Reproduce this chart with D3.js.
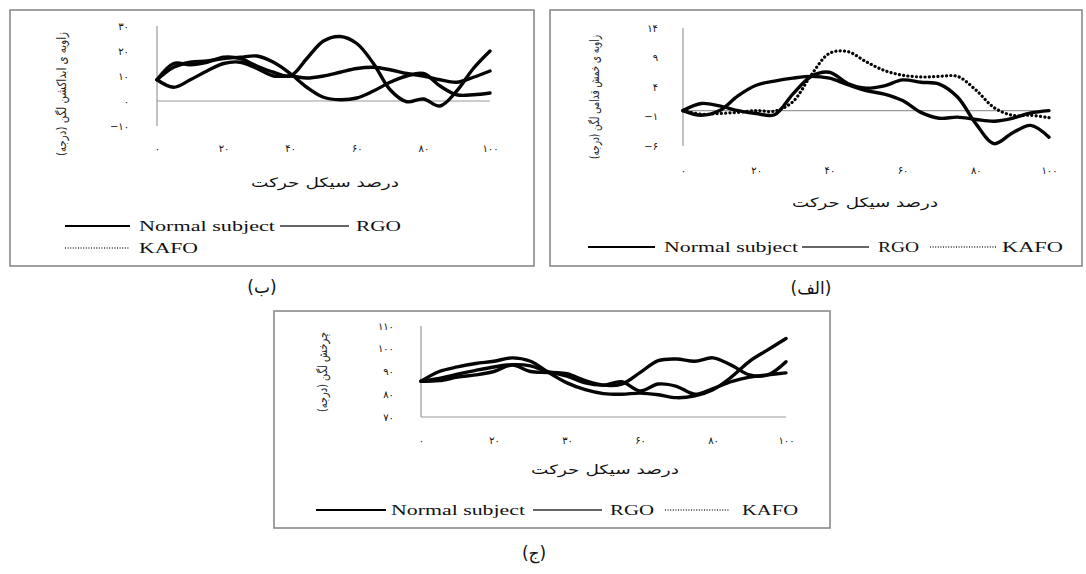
<!DOCTYPE html>
<html>
<head>
<meta charset="utf-8">
<script src="https://cdn.jsdelivr.net/npm/d3@7"></script>
<style>
  body { margin: 0; background: #fff; }
  svg { display: block; }
</style>
</head>
<body>
<script>
// percent of the gait cycle, shared by every series
const cyclePct = [0, 5, 10, 15, 20, 25, 30, 35, 40, 45, 50, 55, 60, 65, 70, 75, 80, 85, 90, 95, 100]
const xTicks = [0, 20, 40, 60, 80, 100]
const xTickText = ["۰", "۲۰", "۴۰", "۶۰", "۸۰", "۱۰۰"]
const xTickTextC = ["۰", "۲۰", "۳۰", "۶۰", "۸۰", "۱۰۰"]

const legendNames = ["Normal subject", "RGO", "KAFO"]

// (ب) pelvic abduction
const abdNormal = [8.5, 15, 14.5, 15.5, 17.5, 17, 14, 11.5, 10, 17, 24, 25.8, 23, 15, 4.5, -0.3, 0.8, -2, 4, 13, 20]
const abdRGO    = [8.5, 13.5, 15.5, 16, 17, 17.5, 18, 15.5, 11, 5.5, 1.5, 0.5, 1.2, 4, 7.5, 10, 11, 6, 2.5, 2.5, 3.2]
const abdKAFO   = [8.5, 5.5, 8.5, 12, 15, 15.5, 13, 10, 10, 9.2, 10, 11.5, 13, 13.5, 12.5, 11, 10, 8.5, 7.5, 9.5, 12]
const abdTicks = [-10, 0, 10, 20, 30]
const abdTickText = ["−۱۰", "۰", "۱۰", "۲۰", "۳۰"]

// (الف) anterior pelvic tilt
const tiltNormal = [0, -0.8, 0, 2.5, 4.3, 5, 5.5, 5.8, 5.5, 4.4, 3.4, 2.8, 1.7, -0.3, -1.3, -1.1, -1.5, -1.8, -1.3, -0.4, 0]
const tiltRGO    = [0, 1.2, 0.8, 0, -0.5, -0.7, 2.8, 5.8, 6.5, 4.6, 3.8, 4.2, 5.2, 4.8, 4.5, 2.3, -2.2, -5.6, -3.8, -2.5, -4.5]
const tiltKAFO   = [0, -0.6, -0.5, -0.3, 0, -0.1, 1.5, 6, 9.7, 10, 8.3, 6.8, 6, 5.7, 5.8, 5.8, 3.5, 0.5, -0.8, -0.8, -1.2]
const tiltTicks = [-6, -1, 4, 9, 14]
const tiltTickText = ["−۶", "−۱", "۴", "۹", "۱۴"]

// (ج) pelvic rotation
const rotNormal = [85.7, 90, 92, 93.5, 94.5, 96, 94.5, 89.5, 85, 82, 80.3, 80, 80.5, 79.8, 78.5, 79.3, 82, 87.5, 94.5, 99.5, 104.5]
const rotRGO    = [85.7, 87, 88.8, 90.5, 92, 93, 92.5, 89.8, 89, 86, 84, 84.5, 89.5, 94.8, 95.5, 94.5, 96, 92.8, 88.5, 88.5, 94.3]
const rotKAFO   = [85.7, 86, 87.5, 88.5, 90, 92.8, 90, 89.5, 88, 85, 84, 85.5, 81.5, 84.5, 83.5, 80, 82.5, 85.5, 87.5, 88.5, 89.4]
const rotTicks = [70, 80, 90, 100, 110]
const rotTickText = ["۷۰", "۸۰", "۹۰", "۱۰۰", "۱۱۰"]

const xTitle = "درصد سیکل حرکت"

let svg = d3.select('body')
  .append('svg')
  .attr('width', 1086)
  .attr('height', 574)

function drawPanel(p) {
  let g = svg.append('g')

  g.append('rect')
    .attr('x', p.box[0]).attr('y', p.box[1])
    .attr('width', p.box[2] - p.box[0]).attr('height', p.box[3] - p.box[1])
    .attr('fill', 'none').attr('stroke', '#8a8a8a').attr('stroke-width', 1.6)

  let x = d3.scaleLinear().domain([0, 100]).range([p.plot[0], p.plot[2]])
  let y = d3.scaleLinear().domain(p.yDomain).range([p.plot[3], p.plot[1]])

  // axis lines
  g.append('line')
    .attr('x1', x(0)).attr('x2', x(0))
    .attr('y1', y(p.yDomain[1])).attr('y2', y(p.yDomain[0]))
    .attr('stroke', '#9a9a9a').attr('stroke-width', 1.2)
  g.append('line')
    .attr('x1', x(0)).attr('x2', x(100))
    .attr('y1', y(p.yCross)).attr('y2', y(p.yCross))
    .attr('stroke', '#9a9a9a').attr('stroke-width', 1.2)

  // tick labels
  let yAxis = g.append('g')
    .attr('transform', `translate(${p.yLabelX},0)`)
    .call(d3.axisLeft(y).tickValues(p.yTicks).tickSize(0).tickPadding(0)
      .tickFormat((d, i) => p.yTickText[i]))
  let xAxis = g.append('g')
    .attr('transform', `translate(0,${p.xLabelY})`)
    .call(d3.axisBottom(x).tickValues(xTicks).tickSize(0).tickPadding(0)
      .tickFormat((d, i) => p.xTickText[i]))
  ;[yAxis, xAxis].forEach(a => {
    a.select('.domain').remove()
    a.selectAll('text')
      .attr('font-family', 'DejaVu Sans, sans-serif')
      .attr('font-size', 10)
      .attr('letter-spacing', 2.5)
      .attr('fill', '#111')
  })
  xAxis.selectAll('text').attr('dy', '0.35em').attr('y', 0)

  // series
  let line = d3.line()
    .x((d, i) => x(cyclePct[i]))
    .y(d => y(d))
    .curve(d3.curveCatmullRom.alpha(0.5))

  p.series.forEach(s => {
    g.append('path')
      .datum(s.values)
      .attr('d', line)
      .attr('fill', 'none')
      .attr('stroke', '#050505')
      .attr('stroke-width', s.dotted ? 3.2 : 3.4)
      .attr('stroke-linejoin', 'round')
      .attr('stroke-linecap', 'round')
      .attr('stroke-dasharray', s.dotted ? '0.1,4.2' : null)
  })

  // axis titles
  g.append('text')
    .attr('x', p.xTitle.x).attr('y', p.xTitle.y)
    .attr('dy', '0.35em')
    .attr('text-anchor', 'middle')
    .attr('direction', 'rtl')
    .attr('font-family', 'DejaVu Sans, sans-serif')
    .attr('font-size', 13)
    .attr('textLength', p.xTitle.w)
    .attr('lengthAdjust', 'spacingAndGlyphs')
    .attr('fill', '#111')
    .text(xTitle)

  g.append('text')
    .attr('transform', `translate(${p.yTitle.x},${p.yTitle.y}) rotate(-90)`)
    .attr('dy', '0.35em')
    .attr('text-anchor', 'middle')
    .attr('direction', 'rtl')
    .attr('font-family', 'DejaVu Sans, sans-serif')
    .attr('font-size', 12.5)
    .attr('textLength', p.yTitle.len)
    .attr('lengthAdjust', 'spacingAndGlyphs')
    .attr('fill', '#222')
    .text(p.yTitle.text)

  // legend
  p.legend.forEach((it, i) => {
    g.append('line')
      .attr('x1', it.x0).attr('x2', it.x1)
      .attr('y1', it.y).attr('y2', it.y)
      .attr('stroke', i == 0 ? '#000' : '#333')
      .attr('stroke-width', i == 0 ? 2 : 1.4)
      .attr('stroke-dasharray', i == 2 ? '1,1.6' : null)
    g.append('text')
      .attr('x', it.tx).attr('y', it.y)
      .attr('dy', '0.35em')
      .attr('font-family', 'Liberation Serif, serif')
      .attr('font-size', 15)
      .attr('textLength', it.tw)
      .attr('lengthAdjust', 'spacingAndGlyphs')
      .attr('fill', '#111')
      .text(legendNames[i])
  })

  svg.append('text')
    .attr('x', p.caption.x).attr('y', p.caption.y)
    .attr('dy', '0.35em')
    .attr('text-anchor', 'middle')
    .attr('direction', 'rtl')
    .attr('font-family', 'DejaVu Sans, sans-serif')
    .attr('font-size', 17)
    .attr('fill', '#111')
    .text(p.caption.text)
}

drawPanel({
  box: [10, 10, 534, 266],
  plot: [157, 26, 490, 126],
  yDomain: [-10, 30], yCross: 0,
  yTicks: abdTicks, yTickText: abdTickText, yLabelX: 129,
  xTickText: xTickText, xLabelY: 148,
  series: [{values: abdNormal}, {values: abdRGO}, {values: abdKAFO}],
  xTitle: {x: 325, y: 182, w: 148},
  yTitle: {x: 62, y: 94, len: 124, text: "زاویه ی ابداکشن لگن (درجه)"},
  legend: [
    {x0: 65, x1: 130, tx: 139, tw: 136, y: 226},
    {x0: 280, x1: 349, tx: 356, tw: 45, y: 226},
    {x0: 65, x1: 129, tx: 139, tw: 59, y: 248}
  ],
  caption: {x: 262, y: 287, text: "(ب)"}
})

drawPanel({
  box: [550, 10, 1082, 266],
  plot: [683, 28, 1049, 146],
  yDomain: [-6, 14], yCross: 0,
  yTicks: tiltTicks, yTickText: tiltTickText, yLabelX: 658,
  xTickText: xTickText, xLabelY: 170,
  series: [{values: tiltNormal}, {values: tiltRGO}, {values: tiltKAFO, dotted: true}],
  xTitle: {x: 865, y: 202, w: 146},
  yTitle: {x: 595, y: 97, len: 124, text: "زاویه ی خمش قدامی لگن (درجه)"},
  legend: [
    {x0: 588, x1: 655, tx: 664, tw: 134, y: 247},
    {x0: 802, x1: 869, tx: 878, tw: 41, y: 247},
    {x0: 930, x1: 997, tx: 1002, tw: 61, y: 247}
  ],
  caption: {x: 811, y: 288, text: "(الف)"}
})

drawPanel({
  box: [274, 311, 830, 528],
  plot: [421, 326, 786, 417],
  yDomain: [70, 110], yCross: 70,
  yTicks: rotTicks, yTickText: rotTickText, yLabelX: 394,
  xTickText: xTickTextC, xLabelY: 440,
  series: [{values: rotNormal}, {values: rotRGO}, {values: rotKAFO}],
  xTitle: {x: 605, y: 469, w: 148},
  yTitle: {x: 323, y: 372, len: 80, text: "چرخش لگن (درجه)"},
  legend: [
    {x0: 316, x1: 386, tx: 391, tw: 134, y: 510},
    {x0: 533, x1: 602, tx: 610, tw: 44, y: 510},
    {x0: 665, x1: 730, tx: 742, tw: 56, y: 510}
  ],
  caption: {x: 534, y: 553, text: "(ج)"}
})
</script>
</body>
</html>
